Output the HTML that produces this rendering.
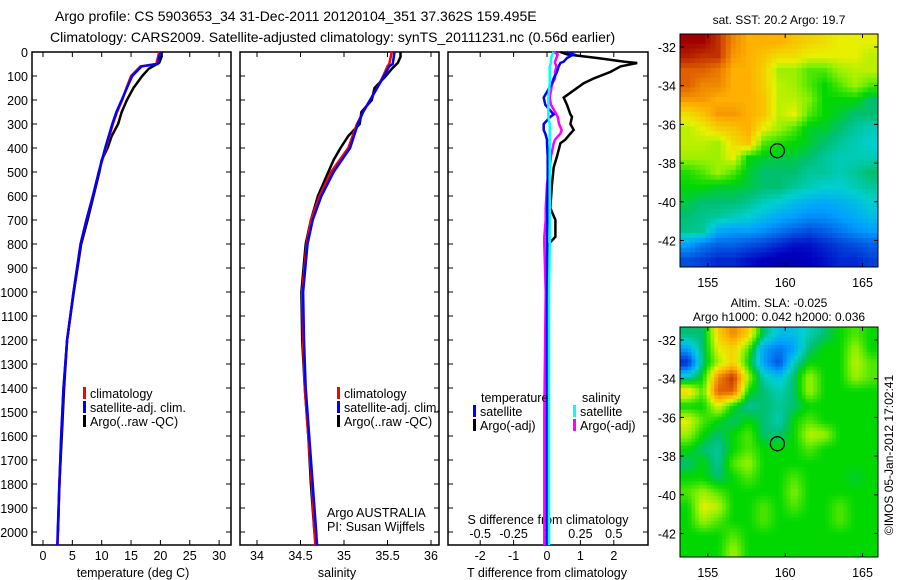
<!DOCTYPE html>
<html><head><meta charset="utf-8"><style>
body{margin:0;background:#fff}
svg{display:block;font-family:"Liberation Sans",sans-serif}
text{fill:#000}
</style></head><body>
<svg id="fig" width="900" height="580" viewBox="0 0 900 580" xmlns="http://www.w3.org/2000/svg">
<rect width="900" height="580" fill="#fff"/>
<text x="55" y="21" font-size="14">Argo profile: CS 5903653_34 31-Dec-2011 20120104_351 37.362S 159.495E</text>
<text x="50" y="42" font-size="14">Climatology: CARS2009. Satellite-adjusted climatology: synTS_20111231.nc (0.56d earlier)</text>
<g id="g"></g>
</svg>
<script>
// ---- data ----
const depthClim=[0,50,60,100,150,200,250,300,400,500,600,700,800,1000,1200,1400,1600,1800,2000,2054];
const tempClim=[19.8,19.3,16.6,15.0,14.2,13.5,12.6,11.9,10.7,9.5,8.5,7.4,6.4,5.2,4.1,3.5,3.1,2.8,2.55,2.45];
const tempSat=[20.0,19.5,16.8,15.2,14.3,13.4,12.5,11.8,10.6,9.5,8.5,7.4,6.4,5.2,4.1,3.5,3.1,2.8,2.5,2.45];
const depthArgo=[0,20,45,70,100,150,200,250,300,350,400,450,500,600,700,800,1000,1200,1400,1600,1800,2000];
const tempArgo=[20.2,20.2,19.8,18.0,16.9,15.4,14.3,13.4,12.8,11.7,11.0,10.0,9.6,8.6,7.6,6.5,5.25,4.1,3.6,3.2,2.8,2.55];
const salClim=[35.55,35.52,35.5,35.45,35.38,35.3,35.22,35.15,35.05,34.85,34.72,34.62,34.57,34.52,34.53,34.55,34.59,34.63,34.66,34.67];
const salSat=[35.58,35.56,35.52,35.46,35.38,35.3,35.22,35.16,35.07,34.88,34.74,34.64,34.58,34.53,34.54,34.56,34.60,34.64,34.68,34.69];
const salArgo=[35.65,35.65,35.62,35.55,35.48,35.35,35.32,35.2,35.18,35.05,34.96,34.88,34.82,34.7,34.62,34.56,34.51,34.52,34.55,34.59,34.62,34.66];
const depthDiff=[0,10,25,40,46,60,83,110,130,190,220,260,270,300,325,340,365,380,435,480,550,650,700,770,800,1000,1500,2054];
const tDiffArgo=[0.4,0.6,1.5,2.3,2.7,2.2,1.9,1.4,1.1,0.5,0.6,0.7,0.75,0.7,0.8,0.7,0.55,0.4,0.3,0.2,0.15,0.1,0.25,0.25,0.05,0.02,0,0];
const tDiffSat=[0.6,0.8,0.6,0.5,0.4,0.35,0.3,0.2,0.15,-0.1,-0.05,0.2,0.1,-0.1,-0.1,-0.05,0,0,0.02,0.02,0.02,0.01,0.01,0,0,0,0,0];
const sDiffArgo=[0.05,0.08,0.07,0.06,0.06,0.07,0.06,0.06,0.04,0.02,0.03,0.07,0.08,0.09,0.11,0.1,0.06,0.05,0.03,0.02,0.0,-0.01,-0.01,-0.02,-0.02,-0.01,-0.02,-0.02];
const sDiffSat=[0.05,0.04,0.03,0.03,0.03,0.02,0.02,0.02,0.02,0.01,0.01,0.01,0.01,0.02,0.02,0.02,0.02,0.02,0.02,0.02,0.02,0.02,0.02,0.02,0.02,0.015,0.015,0.015];
const depthTicks=[0,100,200,300,400,500,600,700,800,900,1000,1100,1200,1300,1400,1500,1600,1700,1800,1900,2000];
const tempTicks=[0,5,10,15,20,25,30];
const salTicks=[34,34.5,35,35.5,36];
const tdTicks=[-2,-1,0,1,2];
const sdTicks=[-0.5,-0.25,0,0.25,0.5];
const sdTickLabels=["-0.5","-0.25","0","0.25","0.5"];
const latTicks=[-32,-34,-36,-38,-40,-42];
const lonTicks=[155,160,165];
const sstGrid=[
[0.95,0.95,0.9,0.8,0.75,0.75,0.75,0.72,0.7,0.68,0.65,0.65,0.65],
[0.92,0.9,0.9,0.78,0.75,0.72,0.68,0.68,0.65,0.65,0.65,0.65,0.62],
[0.85,0.85,0.82,0.75,0.75,0.7,0.6,0.6,0.55,0.55,0.6,0.62,0.62],
[0.85,0.8,0.8,0.75,0.75,0.7,0.62,0.6,0.55,0.5,0.55,0.6,0.55],
[0.78,0.78,0.75,0.75,0.75,0.72,0.62,0.62,0.58,0.5,0.5,0.5,0.45],
[0.68,0.72,0.78,0.78,0.75,0.72,0.62,0.65,0.55,0.5,0.48,0.45,0.45],
[0.62,0.65,0.7,0.72,0.75,0.65,0.6,0.55,0.48,0.48,0.45,0.42,0.4],
[0.62,0.62,0.6,0.68,0.72,0.55,0.52,0.5,0.48,0.45,0.42,0.4,0.38],
[0.6,0.6,0.6,0.65,0.5,0.48,0.47,0.47,0.45,0.42,0.4,0.4,0.4],
[0.52,0.55,0.6,0.55,0.48,0.45,0.45,0.45,0.42,0.42,0.4,0.42,0.45],
[0.5,0.5,0.48,0.48,0.47,0.45,0.45,0.42,0.4,0.38,0.38,0.4,0.42],
[0.47,0.45,0.45,0.45,0.43,0.4,0.38,0.35,0.33,0.32,0.33,0.35,0.38],
[0.45,0.43,0.42,0.4,0.38,0.35,0.32,0.3,0.28,0.28,0.3,0.32,0.35],
[0.43,0.42,0.32,0.3,0.3,0.28,0.25,0.22,0.2,0.22,0.25,0.28,0.3],
[0.3,0.25,0.22,0.22,0.2,0.18,0.15,0.12,0.12,0.15,0.18,0.2,0.22],
[0.2,0.18,0.15,0.15,0.12,0.1,0.08,0.08,0.1,0.12,0.15,0.15,0.18]];
const slaGrid=[
[0.45,0.45,0.7,0.8,0.7,0.45,0.35,0.35,0.4,0.45,0.5,0.55,0.5],
[0.3,0.45,0.65,0.7,0.55,0.3,0.25,0.3,0.45,0.5,0.5,0.6,0.5],
[0.15,0.45,0.6,0.7,0.5,0.3,0.2,0.4,0.5,0.5,0.5,0.62,0.55],
[0.4,0.5,0.8,0.9,0.6,0.4,0.35,0.45,0.6,0.5,0.5,0.6,0.55],
[0.7,0.55,0.85,0.85,0.5,0.45,0.4,0.45,0.6,0.5,0.5,0.5,0.5],
[0.5,0.5,0.65,0.5,0.42,0.45,0.42,0.45,0.5,0.5,0.5,0.5,0.5],
[0.65,0.55,0.5,0.45,0.5,0.45,0.4,0.5,0.55,0.5,0.5,0.5,0.5],
[0.6,0.5,0.45,0.5,0.55,0.45,0.45,0.5,0.62,0.6,0.5,0.5,0.5],
[0.5,0.45,0.42,0.5,0.55,0.5,0.5,0.5,0.55,0.5,0.5,0.5,0.5],
[0.45,0.5,0.42,0.55,0.6,0.5,0.5,0.5,0.5,0.5,0.5,0.5,0.5],
[0.5,0.5,0.45,0.5,0.55,0.5,0.5,0.55,0.5,0.5,0.5,0.48,0.5],
[0.55,0.6,0.55,0.5,0.5,0.5,0.5,0.58,0.5,0.5,0.5,0.5,0.5],
[0.5,0.65,0.62,0.5,0.5,0.55,0.5,0.55,0.5,0.5,0.55,0.5,0.5],
[0.5,0.6,0.55,0.5,0.5,0.55,0.5,0.5,0.5,0.5,0.55,0.5,0.5],
[0.5,0.5,0.5,0.55,0.5,0.5,0.5,0.5,0.5,0.5,0.5,0.5,0.5],
[0.5,0.5,0.5,0.6,0.5,0.5,0.5,0.5,0.5,0.5,0.5,0.5,0.5]];
const argoLon=159.495, argoLat=-37.362;

// ---- helpers ----
const NS="http://www.w3.org/2000/svg";
const G=document.getElementById('g');
function mk(tag,attrs,parent){const e=document.createElementNS(NS,tag);for(const k in attrs)e.setAttribute(k,attrs[k]);(parent||G).appendChild(e);return e;}
function txt(x,y,s,size,anchor,parent){const t=mk('text',{x:x,y:y,'font-size':size||12,'text-anchor':anchor||'start'},parent);t.textContent=s;return t;}
const yD=d=>52+d*0.24;
const xT=v=>43+v*5.87;
const xS=v=>257+(v-34)*87;
const xTD=v=>547+v*33.4;
const xSD=v=>547+v*133.6;
const PY0=52,PY1=545;

function panel(x0,x1,name){
  const r=mk('rect',{x:x0,y:PY0,width:x1-x0,height:PY1-PY0,fill:'none',stroke:'#000','stroke-width':1.5});
  
  
}
function line(xs,ds,fx,color,name){
  const p=mk('polyline',{points:xs.map((v,i)=>fx(v).toFixed(1)+','+yD(ds[i]).toFixed(1)).join(' '),fill:'none',stroke:color,'stroke-width':2.5});
  
  
}
function legend(x,y,color,label,name){
  const g=mk('g',{});
  
  
  mk('rect',{x:x,y:y-11,width:3,height:12,fill:color},g);
  txt(x+7,y,label,12.5,'start',g);
}

// panel 1 temperature
panel(32,231,'temperature-panel');
depthTicks.forEach(d=>{
  const y=yD(d);
  mk('line',{x1:32,y1:y,x2:37,y2:y,stroke:'#000'});mk('line',{x1:226,y1:y,x2:231,y2:y,stroke:'#000'});
  const t=txt(28,y+5,String(d),12.5,'end');
  
  
});
tempTicks.forEach(v=>{const x=xT(v);mk('line',{x1:x,y1:PY1,x2:x,y2:PY1-5,stroke:'#000'});mk('line',{x1:x,y1:PY0,x2:x,y2:PY0+5,stroke:'#000'});txt(x,560,String(v),12.5,'middle');});
txt(133,577,'temperature (deg C)',12.5,'middle');
line(tempArgo,depthArgo,xT,'#000','argo-temperature-line');
line(tempClim,depthClim,xT,'#f00','clim-temperature-line');
line(tempSat,depthClim,xT,'#00f','satellite-temperature-line');
legend(83,398,'#f00','climatology','legend-climatology');
legend(83,412,'#00f','satellite-adj. clim.','legend-satellite');
legend(83,426,'#000','Argo(..raw -QC)','legend-argo');

// panel 2 salinity
panel(240,439,'salinity-panel');
depthTicks.forEach(d=>{const y=yD(d);mk('line',{x1:240,y1:y,x2:245,y2:y,stroke:'#000'});mk('line',{x1:434,y1:y,x2:439,y2:y,stroke:'#000'});});
salTicks.forEach(v=>{const x=xS(v);mk('line',{x1:x,y1:PY1,x2:x,y2:PY1-5,stroke:'#000'});mk('line',{x1:x,y1:PY0,x2:x,y2:PY0+5,stroke:'#000'});txt(x,560,String(v),12.5,'middle');});
txt(337,577,'salinity',12.5,'middle');
line(salArgo,depthArgo,xS,'#000','argo-salinity-line');
line(salClim,depthClim,xS,'#f00','clim-salinity-line');
line(salSat,depthClim,xS,'#00f','satellite-salinity-line');
legend(337,398,'#f00','climatology','legend-climatology-2');
legend(337,412,'#00f','satellite-adj. clim.','legend-satellite-2');
legend(337,426,'#000','Argo(..raw -QC)','legend-argo-2');
txt(327,517,'Argo AUSTRALIA',12.5);
txt(327,531,'PI: Susan Wijffels',12.5);

// panel 3 differences
panel(448,648,'difference-panel');
depthTicks.forEach(d=>{const y=yD(d);mk('line',{x1:448,y1:y,x2:453,y2:y,stroke:'#000'});mk('line',{x1:643,y1:y,x2:648,y2:y,stroke:'#000'});});
tdTicks.forEach(v=>{const x=xTD(v);mk('line',{x1:x,y1:PY1,x2:x,y2:PY1-5,stroke:'#000'});mk('line',{x1:x,y1:PY0,x2:x,y2:PY0+5,stroke:'#000'});txt(x,560,String(v),12.5,'middle');});
sdTicks.forEach((v,i)=>{const x=xSD(v);txt(x,538,sdTickLabels[i],12.5,'middle');});
txt(548,524,'S difference from climatology',12.5,'middle');
txt(547,577,'T difference from climatology',12.5,'middle');
line(tDiffArgo,depthDiff,xTD,'#000','argo-t-diff-line');
line(sDiffArgo,depthDiff,xSD,'#f0f','argo-s-diff-line');
line(tDiffSat,depthDiff,xTD,'#00f','satellite-t-diff-line');
line(sDiffSat,depthDiff,xSD,'#0ff','satellite-s-diff-line');
txt(481,402,'temperature',12.5);
txt(582,402,'salinity',12.5);
legend(473,416,'#00f','satellite','legend-t-satellite');
legend(473,430,'#000','Argo(-adj)','legend-t-argo');
legend(573,416,'#0ff','satellite','legend-s-satellite');
legend(573,430,'#f0f','Argo(-adj)','legend-s-argo');

// maps
const stops=[[0,[0,0,128]],[0.1,[0,0,192]],[0.2,[0,80,224]],[0.3,[0,160,255]],[0.38,[0,208,208]],[0.45,[0,192,112]],[0.5,[0,216,0]],[0.58,[128,240,0]],[0.65,[232,240,0]],[0.75,[255,176,0]],[0.85,[224,96,0]],[0.95,[160,0,0]],[1,[140,0,0]]];
function cmap(v){for(let i=1;i<stops.length;i++){if(v<=stops[i][0]){const a=stops[i-1],b=stops[i],f=(v-a[0])/(b[0]-a[0]);const c=a[1].map((q,k)=>Math.round(q+(b[1][k]-q)*f));return 'rgb('+c.join(',')+')';}}return 'rgb(140,0,0)';}
function sample(grid,fr,fc){
  const R=grid.length-1,C=grid[0].length-1;
  fr=Math.max(0,Math.min(R,fr));fc=Math.max(0,Math.min(C,fc));
  const r0=Math.floor(fr),c0=Math.floor(fc),r1=Math.min(R,r0+1),c1=Math.min(C,c0+1),a=fr-r0,b=fc-c0;
  return grid[r0][c0]*(1-a)*(1-b)+grid[r0][c1]*(1-a)*b+grid[r1][c0]*a*(1-b)+grid[r1][c1]*a*b;
}
function map(x0,y0,w,h,grid,up,title1,title2,name){
  const g=mk('g',{});
  
  
  const clipId=name+'-clip';
  const cp=mk('clipPath',{id:clipId},g);mk('rect',{x:x0,y:y0,width:w,height:h},cp);
  const cells=mk('g',{'clip-path':'url(#'+clipId+')'},g);
  const rows=grid.length*up,cols=grid[0].length*up;
  const cw=w/cols,ch=h/rows;
  const lonX=lo=>x0+(lo-153.2)*(w/12.8);
  const latY=la=>(y0+13)+(-32-la)*19.35;
  for(let r=0;r<rows;r++)for(let c=0;c<cols;c++){
    const v=sample(grid,(r+0.5)/up-0.5,(c+0.5)/up-0.5);
    const cell=mk('rect',{x:(x0+c*cw).toFixed(1),y:(y0+r*ch).toFixed(1),width:(cw+0.6).toFixed(1),height:(ch+0.6).toFixed(1),fill:cmap(v)},cells);
    
    
  }
  mk('rect',{x:x0,y:y0,width:w,height:h,fill:'none',stroke:'#000','stroke-width':1},g);
  latTicks.forEach(la=>{const y=latY(la);mk('line',{x1:x0,y1:y,x2:x0+4,y2:y,stroke:'#000'},g);mk('line',{x1:x0+w-4,y1:y,x2:x0+w,y2:y,stroke:'#000'},g);txt(x0-4,y+5,String(la),12.5,'end',g);});
  lonTicks.forEach(lo=>{const x=lonX(lo);mk('line',{x1:x,y1:y0,x2:x,y2:y0+4,stroke:'#000'},g);mk('line',{x1:x,y1:y0+h-4,x2:x,y2:y0+h,stroke:'#000'},g);txt(x,y0+h+20,String(lo),12.5,'middle',g);});
  const m=mk('circle',{cx:lonX(argoLon),cy:latY(argoLat),r:7,fill:'none',stroke:'#000','stroke-width':1.2},g);
  
  
  if(title2){txt(x0+w/2,y0-20,title1,12,'middle',g);txt(x0+w/2,y0-6,title2,12,'middle',g);}
  else txt(x0+w/2,y0-10,title1,12,'middle',g);
}
map(680,34,198,233,sstGrid,3,'sat. SST: 20.2 Argo: 19.7',null,'sst-map');
map(680,327,198,230,slaGrid,4,'Altim. SLA: -0.025','Argo h1000: 0.042 h2000: 0.036','sla-map');
const c=txt(0,0,'©IMOS 05-Jan-2012 17:02:41',12,'middle');
c.setAttribute('transform','translate(893,455) rotate(-90)');


</script>
</body></html>
